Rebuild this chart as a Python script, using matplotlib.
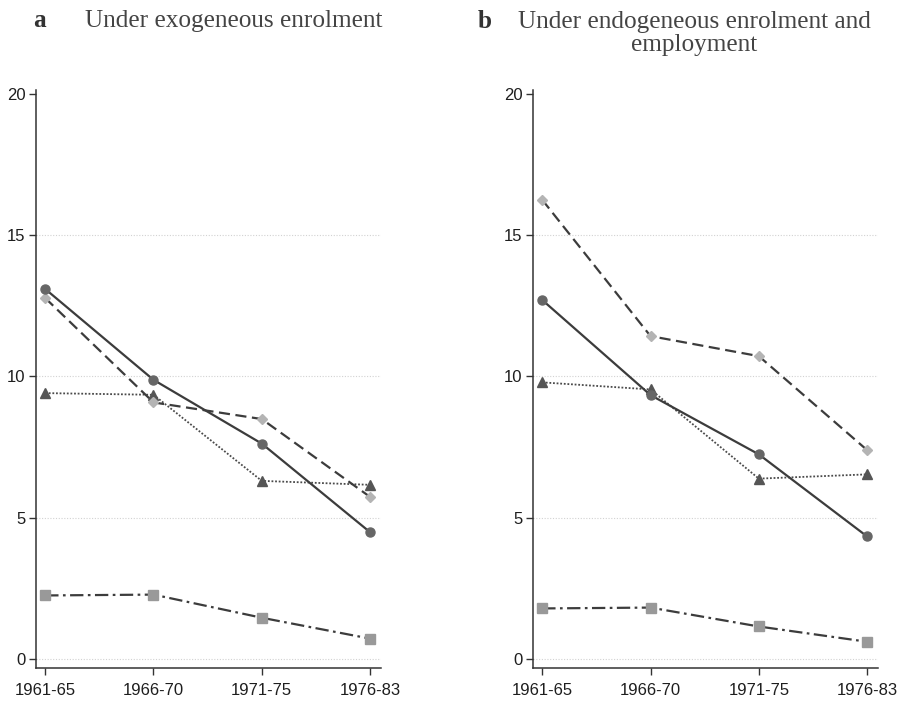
import matplotlib
matplotlib.use("Agg")
import matplotlib.pyplot as plt

periods = ["1961-65", "1966-70", "1971-75", "1976-83"]
yticks = [0, 5, 10, 15, 20]

# Panel a: exogeneous enrolment
a_circle = [13.1, 9.88, 7.62, 4.48]
a_diamond = [12.78, 9.08, 8.49, 5.73]
a_triangle = [9.41, 9.35, 6.30, 6.16]
a_square = [2.24, 2.27, 1.45, 0.71]

# Panel b: endogeneous enrolment and employment
b_circle = [12.71, 9.34, 7.24, 4.33]
b_diamond = [16.26, 11.43, 10.72, 7.39]
b_triangle = [9.79, 9.54, 6.38, 6.53]
b_square = [1.78, 1.81, 1.14, 0.60]

fig = plt.figure(figsize=(9.04, 7.01), dpi=100)
plt.rcParams['font.family'] = ['Liberation Sans', 'DejaVu Sans']

axes_pos = [[0.0398, 0.0471, 0.3816, 0.8245],
            [0.5896, 0.0471, 0.3816, 0.8245]]

panels = [(a_circle, a_diamond, a_triangle, a_square),
          (b_circle, b_diamond, b_triangle, b_square)]

line_col = "#3c3c3c"
for pos, (circ, diam, tri, sq) in zip(axes_pos, panels):
    ax = fig.add_axes(pos)
    x = list(range(len(periods)))
    for yv in [0, 5, 10, 15]:
        ax.axhline(yv, color="#d2d2d2", lw=0.8, ls=(0, (1, 1.5)), zorder=0)
    ax.plot(x, sq, color=line_col, lw=1.6, ls=(0, (6, 2, 1.2, 2)),
            marker="s", ms=6.5, mfc="#999999", mec="#999999", zorder=3)
    ax.plot(x, tri, color="#4a4a4a", lw=1.3, ls=(0, (1, 1)),
            marker="^", ms=6.5, mfc="#555555", mec="#555555", zorder=3)
    ax.plot(x, diam, color=line_col, lw=1.6, ls=(0, (5, 2.5)),
            marker="D", ms=5.5, mfc="#b4b4b4", mec="#b4b4b4", zorder=4)
    ax.plot(x, circ, color=line_col, lw=1.6, ls="-",
            marker="o", ms=6.5, mfc="#666666", mec="#666666", zorder=5)
    ax.set_xlim(-0.085, 3.1)
    ax.set_ylim(-0.33, 20.15)
    ax.set_xticks(x)
    ax.set_xticklabels(periods)
    ax.set_yticks(yticks)
    ax.spines["top"].set_visible(False)
    ax.spines["right"].set_visible(False)
    for s in ["left", "bottom"]:
        ax.spines[s].set_color("#333333")
        ax.spines[s].set_linewidth(1.1)
    ax.tick_params(axis="both", direction="out", length=5, width=1,
                   color="#333333", labelsize=12, labelcolor="#1e1e1e")
    ax.tick_params(axis="x", pad=5.5)
    ax.tick_params(axis="y", pad=2.5)

serif = ["Liberation Serif", "DejaVu Serif"]
def ypx(p):
    return 1 - p / 701.0

fig.text(33 / 904, ypx(27), "a", family=serif, fontsize=18.2, fontweight="bold",
         color="#333333", va="baseline", ha="left")
fig.text(234 / 904, ypx(27), "Under exogeneous enrolment", family=serif, fontsize=18.2,
         color="#444444", va="baseline", ha="center")
fig.text(478 / 904, ypx(28), "b", family=serif, fontsize=18.2, fontweight="bold",
         color="#333333", va="baseline", ha="left")
fig.text(694.5 / 904, ypx(28), "Under endogeneous enrolment and", family=serif,
         fontsize=18.2, color="#444444", va="baseline", ha="center")
fig.text(694.5 / 904, ypx(51), "employment", family=serif,
         fontsize=18.2, color="#444444", va="baseline", ha="center")

fig.savefig("out.png", dpi=100)
